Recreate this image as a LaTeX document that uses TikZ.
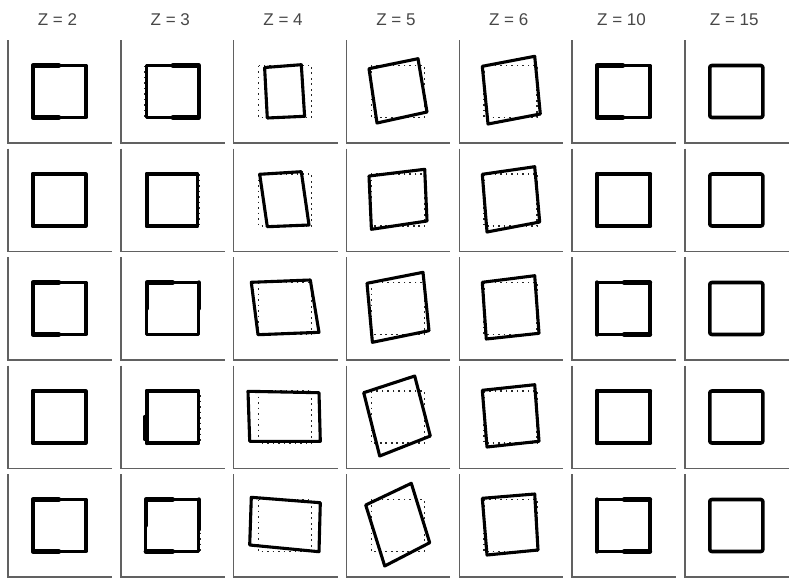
\documentclass[tikz,border=0pt]{standalone}
\usepackage{fontspec}
\setmainfont{Liberation Sans}
\begin{document}
\begin{tikzpicture}[x=1pt,y=-1pt,
  axisln/.style={line width=1.4pt, black!62},
  refsq/.style={line width=1.6pt, dash pattern=on 1.6pt off 3.9pt, black!85},
  shp/.style={line width=3.1pt, line join=round, line cap=round},
  shpx/.style={line width=4.3pt, line join=round, line cap=round},
  zlabel/.style={font=\fontsize{17}{19}\selectfont, text=black!72, inner sep=0pt}]
\useasboundingbox (0,0) rectangle (791,581);
\fill[white] (0,0) rectangle (791,581);
% panel axes
\foreach \i in {0,...,6}{
  \foreach \j in {0,...,4}{
    \draw[axisln] (8+112.8*\i, 40+108.5*\j) -- (8+112.8*\i, 143+108.5*\j) -- (112+112.8*\i, 143+108.5*\j);
  }
}
% column labels
\node[zlabel] (l2)  at (57.5+112.8*0, 20) {Z = 2};
\node[zlabel] (l3)  at (57.5+112.8*1, 20) {Z = 3};
\node[zlabel] (l4)  at (57.5+112.8*2, 20) {Z = 4};
\node[zlabel] (l5)  at (57.5+112.8*3, 20) {Z = 5};
\node[zlabel] (l6)  at (57.5+112.8*4, 20) {Z = 6};
\node[zlabel] (l10) at (57.5+112.8*5, 20) {Z = 10};
\node[zlabel] (l15) at (57.5+112.8*6, 20) {Z = 15};
\newcommand\quadshape[3]{%
  \begin{scope}[shift={(60+112.8*#1, 91.5+108.5*#2)}]
    \draw[refsq] (-27,-26) rectangle (26,26);
    \draw[shp] #3 -- cycle;
  \end{scope}}
% Z = 2
\foreach \j in {0,...,4}{
  \begin{scope}[shift={(60, 91.5+108.5*\j)}]
    \draw[shp] (-27,-26) rectangle (26,26);
    \draw[shpx] (-1,-26) -- (-27,-26) -- (-27,26) -- (-1,26);
  \end{scope}
}
% Z = 3
\begin{scope}[shift={(60+112.8, 91.5)}]
  \draw[refsq] (-28,-26) -- (-28,26);
  \draw[shp] (-26,-26) rectangle (26,26);
  \draw[shpx] (0,-26) -- (26,-26) -- (26,26) -- (0,26);
\end{scope}
\begin{scope}[shift={(60+112.8, 91.5+108.5)}]
  \draw[refsq] (26.5,-26) -- (26.5,26);
  \draw[shp] (-26,-26) rectangle (25,26);
  \draw[shpx] (0,-26) -- (-26,-26) -- (-26,26) -- (0,26);
\end{scope}
\begin{scope}[shift={(60+112.8, 91.5+108.5*2)}]
  \draw[shp] (-26,-26) rectangle (26,26);
  \draw[shpx] (0,-26) -- (-26,-26) -- (-26,0);
  \draw[shpx] (26,-26) -- (26,0);
\end{scope}
\begin{scope}[shift={(60+112.8, 91.5+108.5*3)}]
  \draw[refsq] (27,-22) -- (27,26);
  \draw[shp] (-26,-26) rectangle (26,26);
  \draw[shpx] (0,-26) -- (-26,-26) -- (-26,26);
  \draw[shpx] (-28,0) -- (-28,22);
\end{scope}
\begin{scope}[shift={(60+112.8, 91.5+108.5*4)}]
  \draw[refsq] (-28,0) -- (-28,26);
  \draw[refsq] (27,-26) -- (27,26);
  \draw[shp] (-27,-26) rectangle (26,26);
  \draw[shpx] (0,-26) -- (-27,-26) -- (-27,0);
  \draw[shpx] (26,-26) -- (26,4);
  \draw[shpx] (-27,26) -- (0,26);
\end{scope}
% Z = 4
\quadshape{2}{0}{(-21,-24) -- (15.7,-26.8) -- (19,24.8) -- (-18.3,26.5)}
\quadshape{2}{1}{(-25.9,-25.7) -- (15.7,-28.3) -- (23.4,25) -- (-18.3,26.7)}
\quadshape{2}{2}{(-34.3,-26.2) -- (24.7,-28.5) -- (33.4,23.8) -- (-27.6,26.2)}
\quadshape{2}{3}{(-37.6,-25.7) -- (33.4,-24.3) -- (34.7,24.3) -- (-35.9,24.3)}
\quadshape{2}{4}{(-34.3,-28.2) -- (34.7,-22.8) -- (33.4,26.2) -- (-35.9,19.5)}
% Z = 5
\quadshape{3}{0}{(-29.4,-22.8) -- (19.6,-32.8) -- (28.6,20.5) -- (-21.4,31.5)}
\quadshape{3}{1}{(-29.4,-24) -- (26.3,-30.7) -- (28.6,21) -- (-27,29.3)}
\quadshape{3}{2}{(-31.4,-25.2) -- (24.6,-36.2) -- (30.6,22.2) -- (-26,33.8)}
\quadshape{3}{3}{(-34.7,-24.3) -- (16.3,-41) -- (31.9,19) -- (-18.7,39)}
\quadshape{3}{4}{(-32.7,-20.5) -- (12.9,-42.2) -- (31.3,17.2) -- (-13.7,40.5)}
% Z = 6
\quadshape{4}{0}{(-28.9,-25.2) -- (23.5,-35.2) -- (29.1,22.5) -- (-23.2,32.5)}
\quadshape{4}{1}{(-28.9,-25.7) -- (23.5,-33.3) -- (28.5,22) -- (-24.2,32)}
\quadshape{4}{2}{(-28.9,-26.2) -- (23.5,-32.8) -- (27.8,24.8) -- (-24.9,30.5)}
\quadshape{4}{3}{(-28.9,-26.7) -- (23.5,-32.3) -- (27.8,24.3) -- (-24.2,30)}
\quadshape{4}{4}{(-28.9,-27.2) -- (23.5,-31.5) -- (26.8,24.5) -- (-24.2,29.5)}
% Z = 10
\foreach \j in {0,...,4}{
  \begin{scope}[shift={(60+112.8*5, 91.5+108.5*\j)}]
    \draw[shp] (-27,-26) rectangle (26,26);
  \end{scope}
}
\begin{scope}[shift={(60+112.8*5, 91.5)}]
  \draw[shpx] (-1,-26) -- (-27,-26) -- (-27,26) -- (-1,26);
\end{scope}
\foreach \j in {1,...,4}{
  \begin{scope}[shift={(60+112.8*5, 91.5+108.5*\j)}]
    \draw[shpx] (-27,-26) -- (-27,26);
    \draw[shpx] (0,-26) -- (26,-26);
    \draw[shpx] (0,26) -- (26,26);
  \end{scope}
}
% Z = 15
\foreach \j in {0,...,4}{
  \begin{scope}[shift={(60+112.8*6, 91.5+108.5*\j)}]
    \draw[shp, line width=3.6pt, rounded corners=2pt] (-27,-26) rectangle (26,26);
  \end{scope}
}
\end{tikzpicture}
\end{document}
